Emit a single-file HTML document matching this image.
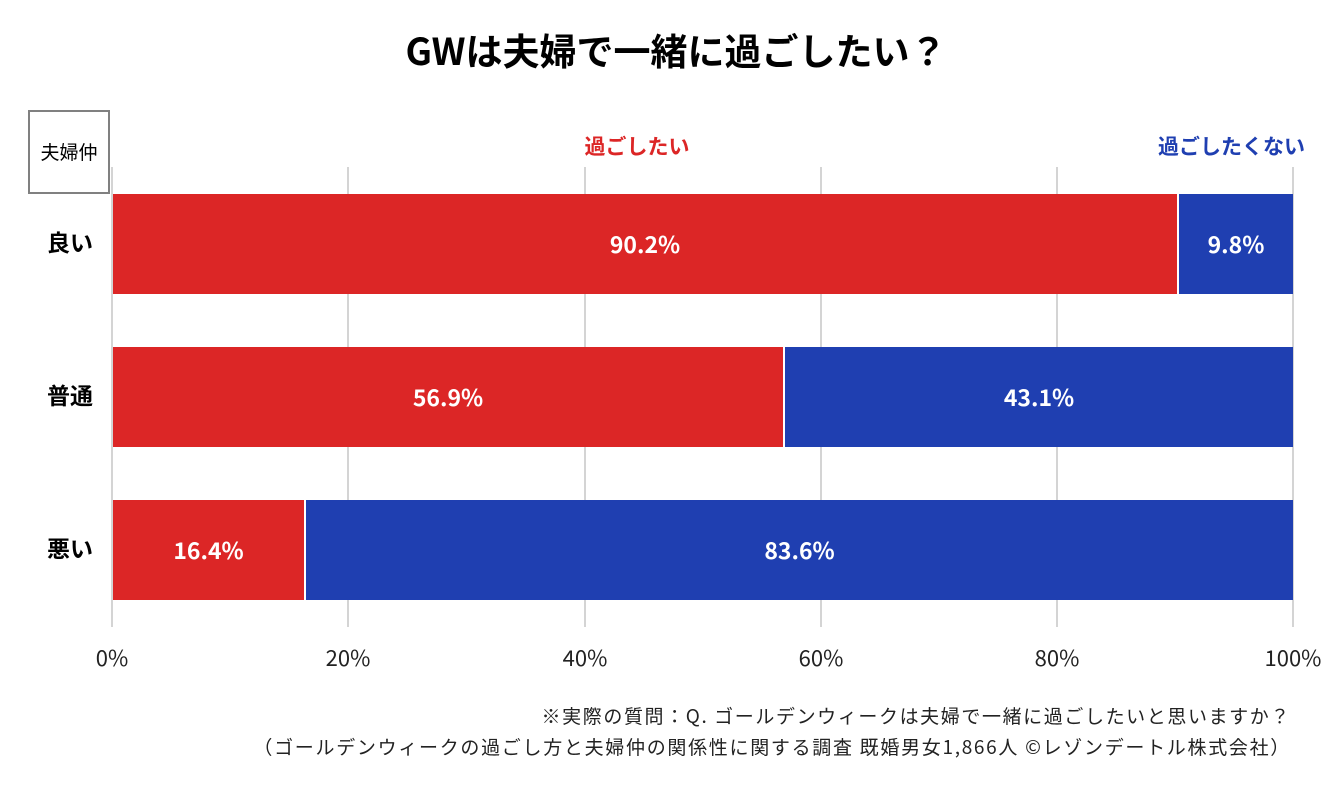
<!DOCTYPE html>
<html><head><meta charset="utf-8"><style>
body{margin:0;width:1329px;height:788px;background:#fff;position:relative;overflow:hidden;font-family:"Noto Sans CJK JP","Liberation Sans",sans-serif;}
.a{position:absolute;}
.g{position:absolute;top:167px;width:2px;height:460px;background:#d4d4d4;}
.bar{position:absolute;height:100px;color:#fff;font-weight:bold;font-size:23px;display:flex;align-items:center;justify-content:center;padding-bottom:3px;box-sizing:border-box;}
.r{background:#dc2626;}.b{background:#1f3fb1;}
.lab{position:absolute;left:30px;width:80px;text-align:center;font-weight:bold;font-size:23px;line-height:26px;}
.t{position:absolute;top:642px;font-size:22px;color:#222;width:90px;text-align:center;line-height:30px;}
</style></head><body>
<div class="a" style="top:23px;left:0;width:1352px;text-align:center;font-size:37px;font-weight:bold;line-height:52px;">GWは夫婦で一緒に過ごしたい？</div>
<div class="a" style="left:28px;top:110px;width:78px;height:78px;border:2px solid #808080;display:flex;align-items:center;justify-content:center;font-size:19px;padding-bottom:2px;box-sizing:content-box;">夫婦仲</div>
<div class="a" style="left:547px;top:131px;width:180px;text-align:center;color:#dc2626;font-weight:bold;font-size:21px;line-height:30px;">過ごしたい</div>
<div class="a" style="left:1120px;top:131px;width:223px;text-align:center;color:#1f3fb1;font-weight:bold;font-size:21px;line-height:30px;">過ごしたくない</div>
<div class="g" style="left:111px"></div><div class="g" style="left:347px"></div><div class="g" style="left:584px"></div><div class="g" style="left:820px"></div><div class="g" style="left:1056px"></div><div class="g" style="left:1292px"></div>
<div class="bar r" style="left:113px;top:194px;width:1064px">90.2%</div>
<div class="bar b" style="left:1179px;top:194px;width:114px">9.8%</div>
<div class="bar r" style="left:113px;top:347px;width:670px">56.9%</div>
<div class="bar b" style="left:785px;top:347px;width:508px">43.1%</div>
<div class="bar r" style="left:113px;top:500px;width:191px">16.4%</div>
<div class="bar b" style="left:306px;top:500px;width:987px">83.6%</div>
<div class="lab" style="top:228px">良い</div>
<div class="lab" style="top:381px">普通</div>
<div class="lab" style="top:534px">悪い</div>
<div class="t" style="left:67px">0%</div><div class="t" style="left:303px">20%</div><div class="t" style="left:540px">40%</div><div class="t" style="left:776px">60%</div><div class="t" style="left:1012px">80%</div><div class="t" style="left:1248px">100%</div>
<div class="a" style="right:38px;top:703px;font-size:19px;letter-spacing:1.6px;color:#222;line-height:26px;white-space:nowrap;">※実際の質問：Q. ゴールデンウィークは夫婦で一緒に過ごしたいと思いますか？</div>
<div class="a" style="right:38px;top:734px;font-size:19px;letter-spacing:1.7px;color:#222;line-height:26px;white-space:nowrap;">（ゴールデンウィークの過ごし方と夫婦仲の関係性に関する調査 既婚男女1,866人 ©レゾンデートル株式会社）</div>
</body></html>
